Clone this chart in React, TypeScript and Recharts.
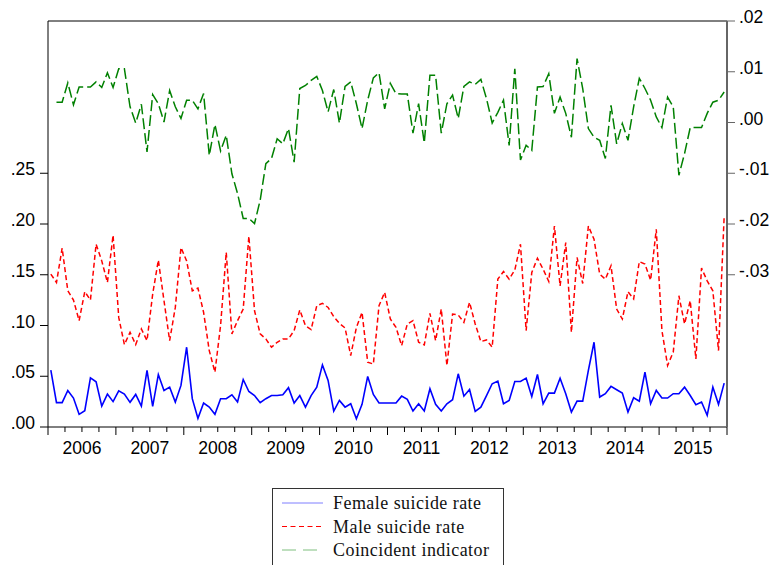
import React from "react";
import { LineChart, Line, XAxis, YAxis, ReferenceLine, Legend } from "recharts";

const years = ["2006", "2007", "2008", "2009", "2010", "2011", "2012", "2013", "2014", "2015"];

const femaleRate = [
  0.056, 0.024, 0.024, 0.036, 0.0285, 0.0125, 0.016, 0.0485, 0.0446, 0.0206, 0.0324, 0.025,
  0.0357, 0.0324, 0.0243, 0.0321, 0.0206, 0.0557, 0.0203, 0.0517, 0.036, 0.0393, 0.0246, 0.041,
  0.0786, 0.0279, 0.0085, 0.0236, 0.0196, 0.0125, 0.0279, 0.0279, 0.0318, 0.0246, 0.0468, 0.035,
  0.031, 0.024, 0.0279, 0.031, 0.031, 0.0318, 0.0387, 0.0236, 0.031, 0.0196, 0.031, 0.0393,
  0.0612, 0.0459, 0.0157, 0.0262, 0.0196, 0.0229, 0.0082, 0.0223, 0.0498, 0.032, 0.0236, 0.0236,
  0.0236, 0.0236, 0.0304, 0.0272, 0.0157, 0.0229, 0.0157, 0.0377, 0.0223, 0.0157, 0.0229, 0.0269,
  0.0524, 0.0304, 0.037, 0.0154, 0.0196, 0.031, 0.0426, 0.0452, 0.0229, 0.0262, 0.0449, 0.0449,
  0.0481, 0.03, 0.0517, 0.0229, 0.0334, 0.0334, 0.0481, 0.0328, 0.0147, 0.0255, 0.0255, 0.0557,
  0.0835, 0.0295, 0.0328, 0.04, 0.0367, 0.0334, 0.0147, 0.0288, 0.0255, 0.054, 0.0229, 0.036,
  0.0285, 0.0285, 0.0328, 0.0328, 0.0393, 0.031, 0.0219, 0.0246, 0.0115, 0.0393, 0.0223, 0.0432,
];

const maleRate = [
  0.1506, 0.1424, 0.1762, 0.1342, 0.1251, 0.1048, 0.1333, 0.1251, 0.1801, 0.1637, 0.1424, 0.1889,
  0.108, 0.0812, 0.0933, 0.0812, 0.0966, 0.0851, 0.131, 0.1644, 0.1244, 0.0851, 0.1178, 0.1768,
  0.1637, 0.1342, 0.1369, 0.1129, 0.0753, 0.054, 0.1, 0.172, 0.0917, 0.1048, 0.1162, 0.188,
  0.1145, 0.0917, 0.0868, 0.0786, 0.0835, 0.0868, 0.0868, 0.095, 0.1153, 0.0999, 0.096, 0.1195,
  0.1218, 0.1178, 0.1087, 0.1021, 0.0976, 0.0704, 0.098, 0.1129, 0.0638, 0.062, 0.1195, 0.1326,
  0.1064, 0.0982, 0.0802, 0.1015, 0.1048, 0.0835, 0.0809, 0.112, 0.0851, 0.1162, 0.0606, 0.1113,
  0.1103, 0.1031, 0.1228, 0.1015, 0.0842, 0.0858, 0.0786, 0.1457, 0.1532, 0.1457, 0.1546, 0.1801,
  0.095, 0.1522, 0.1663, 0.1555, 0.1434, 0.198, 0.139, 0.1817, 0.0933, 0.167, 0.1414, 0.198,
  0.185, 0.1506, 0.1457, 0.1588, 0.1162, 0.1064, 0.1333, 0.1261, 0.163, 0.1605, 0.1447, 0.1948,
  0.095, 0.0606, 0.0737, 0.1293, 0.1015, 0.1244, 0.0671, 0.1565, 0.144, 0.1342, 0.0753, 0.2079,
];

const coincident = [
  null, 0.004, 0.004, 0.0078, 0.0035, 0.007, 0.007, 0.007, 0.008, 0.0069, 0.0098, 0.0069,
  0.0106, 0.0106, 0.0031, -0.0001, 0.0036, -0.0058, 0.0055, 0.0037, 0.0001, 0.0063, 0.0031, 0.0008,
  0.0044, 0.0044, 0.0027, 0.0057, -0.0065, -0.0004, -0.0056, -0.0025, -0.0101, -0.014, -0.0189, -0.0189,
  -0.0199, -0.0153, -0.0081, -0.0071, -0.0032, -0.0042, -0.0012, -0.0078, 0.0067, 0.0073, 0.0083, 0.0091,
  0.0063, 0.0021, 0.0065, -0.0001, 0.0071, 0.008, 0.0037, -0.0012, 0.0044, 0.0088, 0.0098, 0.0027,
  0.0077, 0.0057, 0.0056, 0.0056, -0.0021, 0.0037, -0.004, 0.0093, 0.0093, -0.0021, 0.0037, 0.0054,
  0.0008, 0.0071, 0.008, 0.0075, 0.0085, 0.0047, -0.0001, 0.002, 0.0044, -0.0045, 0.0106, -0.0074,
  -0.0045, -0.0055, 0.007, 0.0071, 0.0096, 0.0018, 0.005, 0.0018, -0.0029, 0.0126, 0.0067, -0.0012,
  -0.0029, -0.0035, -0.0071, 0.0034, -0.0042, -0.0002, -0.0035, 0.0031, 0.0087, 0.0067, 0.0044, 0.0011,
  -0.001, 0.005, 0.0031, -0.0104, -0.0061, -0.001, -0.001, -0.001, 0.0018, 0.004, 0.0044, 0.006,
];

const leftTicks = [0, 0.05, 0.1, 0.15, 0.2, 0.25];
const rightTicks = [-0.03, -0.02, -0.01, 0, 0.01, 0.02];

const seriesInfo = [
  { key: "female", name: "Female suicide rate", color: "#0000ff", dash: undefined as string | undefined, legendColor: "#7f7fff", legendDash: undefined as string | undefined },
  { key: "male", name: "Male suicide rate", color: "#ff0000", dash: "5 3", legendColor: "#ff0000", legendDash: "5 3.5" },
  { key: "coin", name: "Coincident indicator", color: "#008000", dash: "11 4", legendColor: "#7fbf7f", legendDash: "14 7" },
];

const data = femaleRate.map((f, i) => ({
  x: i + 0.5,
  female: f,
  male: maleRate[i],
  coin: coincident[i],
}));

const xTicks: number[] = [];
for (let m = 0; m <= years.length * 12; m += 3) xTicks.push(m);

const fmt = (v: number) => {
  const s = Math.abs(v).toFixed(2).replace(/^0/, "");
  return (v < 0 ? "-" : "") + s;
};

const FONT = "'Liberation Sans', Arial, sans-serif";

const XTick = (props: any) => {
  const { x, y, payload } = props;
  const v = payload.value as number;
  const isYear = v % 12 === 0;
  const isMid = v % 12 === 6;
  return (
    <g>
      <line x1={x} x2={x} y1={y} y2={y + (isYear ? 8 : 5)} stroke="#000" strokeWidth={1} />
      {isMid && (
        <text x={x} y={y + 27} textAnchor="middle" fontSize={17.5} fontFamily={FONT} fill="#000">
          {years[(v - 6) / 12]}
        </text>
      )}
    </g>
  );
};

const YTick = (props: any) => {
  const { x, y, payload, textAnchor } = props;
  return (
    <text x={x} y={y} dy={2} textAnchor={textAnchor} fontSize={17.5} fontFamily={FONT} fill="#000">
      {fmt(payload.value)}
    </text>
  );
};

const renderLegend = () => (
  <svg width={232} height={90} style={{ display: "block" }}>
    <rect x={0.5} y={0.5} width={231} height={100} fill="#fff" stroke="#333" strokeWidth={1} />
    {seriesInfo.map((s, idx) => {
      const cy = 15 + idx * 23.5;
      return (
        <g key={s.key}>
          <line x1={10} x2={51} y1={cy} y2={cy} stroke={s.legendColor} strokeWidth={1} strokeDasharray={s.legendDash} />
          <text
            x={61}
            y={cy + 6}
            fontSize={18}
            letterSpacing={0.45}
            fontFamily="'Liberation Serif', 'Times New Roman', serif"
            fill="#111"
          >
            {s.name}
          </text>
        </g>
      );
    })}
  </svg>
);

export default function App() {
  return (
    <div style={{ position: "absolute", left: 0, top: 0, width: 780, height: 565, overflow: "hidden", background: "#fff" }}>
      <LineChart width={780} height={565} data={data} margin={{ top: 21, right: 0, bottom: 18, left: 0 }}>
        <XAxis
          dataKey="x"
          type="number"
          domain={[0, years.length * 12]}
          ticks={xTicks}
          interval={0}
          tick={<XTick />}
          tickLine={false}
          tickSize={0}
          tickMargin={0}
          height={30}
          axisLine={{ stroke: "#000", strokeWidth: 1 }}
          allowDataOverflow
        />
        <YAxis
          yAxisId="left"
          orientation="left"
          domain={[0, 0.4]}
          ticks={leftTicks}
          interval={0}
          width={48}
          tickSize={8}
          tickMargin={5}
          tick={<YTick />}
          tickLine={{ stroke: "#000" }}
          axisLine={{ stroke: "#000", strokeWidth: 1 }}
          allowDataOverflow
        />
        <YAxis
          yAxisId="right"
          orientation="right"
          domain={[-0.06, 0.02]}
          ticks={rightTicks}
          interval={0}
          width={53}
          tickSize={8}
          tickMargin={4}
          tick={<YTick />}
          tickLine={{ stroke: "#666" }}
          axisLine={{ stroke: "#666", strokeWidth: 2 }}
          allowDataOverflow
        />
        <ReferenceLine yAxisId="left" y={0.4} stroke="#000" strokeWidth={1} />
        <Line
          yAxisId="left"
          dataKey="female"
          name={seriesInfo[0].name}
          stroke={seriesInfo[0].color}
          strokeWidth={1.6}
          dot={false}
          activeDot={false}
          type="linear"
          isAnimationActive={false}
        />
        <Line
          yAxisId="left"
          dataKey="male"
          name={seriesInfo[1].name}
          stroke={seriesInfo[1].color}
          strokeWidth={1.5}
          strokeDasharray={seriesInfo[1].dash}
          dot={false}
          activeDot={false}
          type="linear"
          isAnimationActive={false}
        />
        <Line
          yAxisId="right"
          dataKey="coin"
          name={seriesInfo[2].name}
          stroke={seriesInfo[2].color}
          strokeWidth={1.5}
          strokeDasharray={seriesInfo[2].dash}
          dot={false}
          activeDot={false}
          type="linear"
          connectNulls={false}
          isAnimationActive={false}
        />
        <Legend
          content={renderLegend}
          wrapperStyle={{ position: "absolute", left: 272, top: 488, width: 232, height: 90, bottom: "auto", right: "auto" }}
        />
      </LineChart>
    </div>
  );
}
